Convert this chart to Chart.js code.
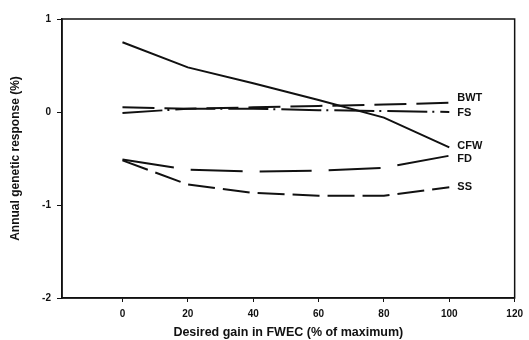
<!DOCTYPE html>
<html>
<head>
<meta charset="utf-8">
<script src="https://cdn.jsdelivr.net/npm/chart.js@4/dist/chart.umd.min.js"></script>
<style>
  html, body { margin: 0; padding: 0; background: #fff; }
  #wrap { width: 529px; height: 340px; }
</style>
</head>
<body>
<div id="wrap"><canvas id="myChart"></canvas></div>
<script>
const gain = [0, 20, 40, 60, 80, 100];
const seriesNames = ['BWT', 'FS', 'CFW', 'FD', 'SS'];
const bwt = [0.05, 0.035, 0.05, 0.065, 0.08, 0.10];
const fs = [-0.01, 0.035, 0.035, 0.02, 0.01, 0.0];
const cfw = [0.75, 0.48, 0.31, 0.13, -0.06, -0.38];
const fd = [-0.51, -0.62, -0.64, -0.63, -0.60, -0.47];
const ss = [-0.52, -0.78, -0.87, -0.90, -0.90, -0.81];
// where the series names sit (in y units), next to x = 100
const labelY = [0.15, -0.01, -0.37, -0.51, -0.81];
const xTicks = [0, 20, 40, 60, 80, 100, 120];
const yTicks = [-2, -1, 0, 1];

const font = {family: 'Liberation Sans, Arial, sans-serif', weight: 'bold'};

function toPoints(values) {
  return values.map((v, i) => ({x: gain[i], y: v}));
}

const dashes = [[32, 10], [40, 5, 2, 6], [], [52, 17], [27, 8]];
const allValues = [bwt, fs, cfw, fd, ss];

const datasets = allValues.map((values, i) => {
  return {
    label: seriesNames[i],
    data: toPoints(values),
    borderColor: '#111',
    borderWidth: 2,
    borderDash: dashes[i],
    pointRadius: 0,
    tension: 0,
    fill: false
  };
});

const frameAndLabels = {
  id: 'frameAndLabels',
  afterDraw(chart) {
    const ctx = chart.ctx;
    const a = chart.chartArea;
    const xs = chart.scales.x;
    const ys = chart.scales.y;
    ctx.save();
    ctx.strokeStyle = '#111';
    ctx.lineWidth = 1.5;
    ctx.strokeRect(a.left, a.top, a.right - a.left, a.bottom - a.top);
    ctx.fillStyle = '#111';
    ctx.font = 'bold 11px ' + font.family;
    ctx.textBaseline = 'middle';
    ctx.textAlign = 'left';
    seriesNames.forEach((name, i) => {
      ctx.fillText(name, xs.getPixelForValue(100) + 8, ys.getPixelForValue(labelY[i]));
    });
    ctx.restore();
  }
};

new Chart(document.getElementById('myChart'), {
  type: 'line',
  data: {datasets: datasets},
  plugins: [frameAndLabels],
  options: {
    responsive: true,
    maintainAspectRatio: false,
    animation: false,
    layout: {padding: {top: 19, right: 11, left: 0, bottom: 0}},
    plugins: {legend: {display: false}, tooltip: {enabled: false}},
    scales: {
      x: {
        type: 'linear',
        min: -18.5,
        max: 120,
        afterBuildTicks: (axis) => { axis.ticks = xTicks.map(v => ({value: v})); },
        afterFit: (axis) => { axis.height = 42; },
        grid: {display: true, drawOnChartArea: false, tickLength: 4, color: '#111'},
        border: {display: true, color: '#111', width: 1.5},
        ticks: {color: '#111', font: Object.assign({size: 10}, font), padding: 6, maxRotation: 0},
        title: {display: true, text: 'Desired gain in FWEC (% of maximum)', color: '#111',
          font: Object.assign({size: 12.5}, font), padding: {top: 2, bottom: 0}}
      },
      y: {
        type: 'linear',
        min: -2,
        max: 1,
        afterBuildTicks: (axis) => { axis.ticks = yTicks.map(v => ({value: v})); },
        afterFit: (axis) => { axis.width = 62; },
        grid: {display: true, drawOnChartArea: false, tickLength: 5, color: '#111'},
        border: {display: true, color: '#111', width: 1.5},
        ticks: {color: '#111', font: Object.assign({size: 10}, font), padding: 6},
        title: {display: true, text: 'Annual genetic response (%)', color: '#111',
          font: Object.assign({size: 12}, font), padding: {top: 8, bottom: 0}}
      }
    }
  }
});
</script>
</body>
</html>
